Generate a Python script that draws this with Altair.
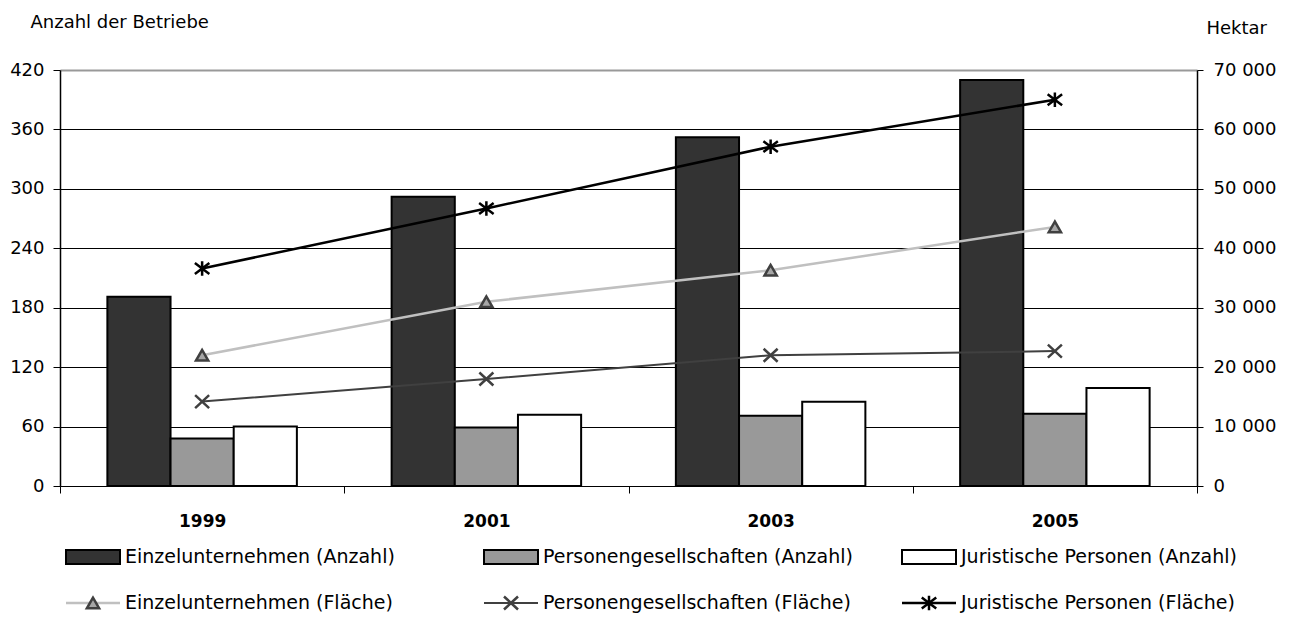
import altair as alt
import pandas as pd

# ---------------- data ----------------
years = ["1999", "2001", "2003", "2005"]

bar_series = [
    "Einzelunternehmen (Anzahl)",
    "Personengesellschaften (Anzahl)",
    "Juristische Personen (Anzahl)",
]
einzel_anzahl = [191, 292, 352, 410]
personen_anzahl = [48, 59, 71, 73]
juristische_anzahl = [60, 72, 85, 99]

line_series = [
    "Einzelunternehmen (Fläche)",
    "Personengesellschaften (Fläche)",
    "Juristische Personen (Fläche)",
]
einzel_flaeche = [22000, 31000, 36300, 43600]
personen_flaeche = [14200, 18000, 22000, 22700]
juristische_flaeche = [36600, 46700, 57100, 65000]

left_ticks = [0, 60, 120, 180, 240, 300, 360, 420]
right_ticks = [0, 10000, 20000, 30000, 40000, 50000, 60000, 70000]

left_title = "Anzahl der Betriebe"
right_title = "Hektar"

# ---------------- styles ----------------
FONT = "DejaVu Sans"
bar_colors = ["#333333", "#999999", "#ffffff"]
line_colors = ["#c0c0c0", "#404040", "#000000"]
marker_fill = ["#a6a6a6", None, None]
marker_stroke = ["#404040", "#404040", "#000000"]
marker_shapes = [
    "triangle-up",
    "M-1,-0.93L1,0.93M-1,0.93L1,-0.93",
    "M-1,-0.75L1,0.75M-1,0.75L1,-0.75M0,-1L0,1",
]
marker_sizes = [150, 196, 210]
line_widths = [2.5, 2, 2.5]

W, H = 1137, 416

bar_df = pd.DataFrame(
    [
        {"year": y, "series": s, "value": v}
        for s, vals in zip(bar_series, [einzel_anzahl, personen_anzahl, juristische_anzahl])
        for y, v in zip(years, vals)
    ]
)
line_df = pd.DataFrame(
    [
        {"year": y, "series": s, "value": v}
        for s, vals in zip(line_series, [einzel_flaeche, personen_flaeche, juristische_flaeche])
        for y, v in zip(years, vals)
    ]
)

x_enc = alt.X(
    "year:N",
    sort=years,
    scale=alt.Scale(domain=years, paddingInner=0, paddingOuter=0),
    axis=alt.Axis(
        title=None,
        labelAngle=0,
        labelFont=FONT,
        labelFontSize=17,
        labelFontWeight="bold",
        labelColor="black",
        labelPadding=20,
        tickBand="extent",
        tickSize=7,
        tickColor="black",
        tickWidth=1,
        domainColor="black",
        domainWidth=1,
        grid=False,
    ),
)

left_axis = alt.Axis(
    orient="left",
    values=left_ticks,
    title=left_title,
    titleAngle=0,
    titleAlign="left",
    titleBaseline="alphabetic",
    titleX=-30,
    titleY=-43,
    titleFont=FONT,
    titleFontSize=18,
    titleFontWeight="normal",
    titleColor="black",
    labelFont=FONT,
    labelFontSize=18,
    labelColor="black",
    labelPadding=9,
    tickSize=7,
    tickColor="black",
    domainColor="black",
    domainWidth=1.5,
    grid=True,
    gridColor={"condition": {"test": "datum.value === 420", "value": "#999999"}, "value": "#000000"},
    gridWidth={"condition": {"test": "datum.value === 420", "value": 2}, "value": 1},
)

right_axis = alt.Axis(
    orient="right",
    values=right_ticks,
    labelExpr="datum.value == 0 ? '0' : format(datum.value / 1000, 'd') + ' 000'",
    title=right_title,
    titleAngle=0,
    titleAlign="left",
    titleBaseline="alphabetic",
    titleX=9,
    titleY=-37,
    titleFont=FONT,
    titleFontSize=18,
    titleFontWeight="normal",
    titleColor="black",
    labelFont=FONT,
    labelFontSize=18,
    labelColor="black",
    labelPadding=10,
    tickSize=6,
    tickColor="black",
    domainColor="black",
    domainWidth=1.5,
    grid=False,
)

bars = alt.Chart(bar_df).mark_bar(stroke="black", strokeWidth=2).encode(
    x=x_enc,
    xOffset=alt.XOffset(
        "series:N",
        sort=bar_series,
        scale=alt.Scale(domain=bar_series, paddingInner=0, paddingOuter=0.75),
    ),
    y=alt.Y("value:Q", scale=alt.Scale(domain=[0, 420], nice=False, zero=True), axis=left_axis),
    fill=alt.Fill("series:N", scale=alt.Scale(domain=bar_series, range=bar_colors), legend=None),
)

line_layers = []
for i, s in enumerate(line_series):
    base = alt.Chart(line_df).transform_filter(alt.datum.series == s)
    yq = alt.Y("value:Q", scale=alt.Scale(domain=[0, 70000], nice=False), axis=right_axis)
    line_layers.append(
        base.mark_line(color=line_colors[i], strokeWidth=line_widths[i]).encode(x=x_enc, y=yq)
    )
for i, s in enumerate(line_series):
    base = alt.Chart(line_df).transform_filter(alt.datum.series == s)
    yq = alt.Y("value:Q", scale=alt.Scale(domain=[0, 70000], nice=False), axis=right_axis)
    pkw = dict(shape=marker_shapes[i], size=marker_sizes[i], stroke=marker_stroke[i],
               strokeWidth=2.5, opacity=1)
    if marker_fill[i]:
        pkw.update(filled=True, fill=marker_fill[i], fillOpacity=1)
    else:
        pkw.update(filled=False)
    line_layers.append(base.mark_point(**pkw).encode(x=x_enc, y=yq))

lines = alt.layer(*line_layers)

# ---------------- legend (drawn as marks below the plot) ----------------
col_x = [6, 424, 842]     # symbol left edge, relative to plot origin
sym_w = 54
label_gap = 5
row1_y = 487
row2_y = 533

legend_layers = []
for i in range(3):
    x0 = col_x[i]
    d1 = pd.DataFrame({"label": [bar_series[i]]})
    legend_layers.append(
        alt.Chart(d1).mark_rect(fill=bar_colors[i], stroke="black", strokeWidth=2).encode(
            x=alt.value(x0), x2=alt.value(x0 + sym_w),
            y=alt.value(row1_y - 7), y2=alt.value(row1_y + 7),
        )
    )
    legend_layers.append(
        alt.Chart(d1).mark_text(align="left", baseline="middle", font=FONT, fontSize=19, color="black").encode(
            x=alt.value(x0 + sym_w + label_gap), y=alt.value(row1_y), text="label:N"
        )
    )
    d2 = pd.DataFrame({"label": [line_series[i]]})
    legend_layers.append(
        alt.Chart(d2).mark_rule(color=line_colors[i], strokeWidth=line_widths[i]).encode(
            x=alt.value(x0), x2=alt.value(x0 + sym_w), y=alt.value(row2_y)
        )
    )
    pkw = dict(shape=marker_shapes[i], size=marker_sizes[i], stroke=marker_stroke[i],
               strokeWidth=2.5, opacity=1)
    if marker_fill[i]:
        pkw.update(filled=True, fill=marker_fill[i], fillOpacity=1)
    else:
        pkw.update(filled=False)
    legend_layers.append(
        alt.Chart(d2).mark_point(**pkw).encode(x=alt.value(x0 + sym_w / 2), y=alt.value(row2_y))
    )
    legend_layers.append(
        alt.Chart(d2).mark_text(align="left", baseline="middle", font=FONT, fontSize=19, color="black").encode(
            x=alt.value(x0 + sym_w + label_gap), y=alt.value(row2_y), text="label:N"
        )
    )

chart = (
    alt.layer(bars, lines, *legend_layers)
    .resolve_scale(y="independent")
    .properties(
        width=W,
        height=H,
        autosize=alt.AutoSizeParams(type="none"),
        padding={"left": 52, "top": 62, "right": 84, "bottom": 147},
        background="white",
    )
    .configure_view(stroke=None)
)

chart.save("out.html", embed_options={"renderer": "svg", "actions": False})
